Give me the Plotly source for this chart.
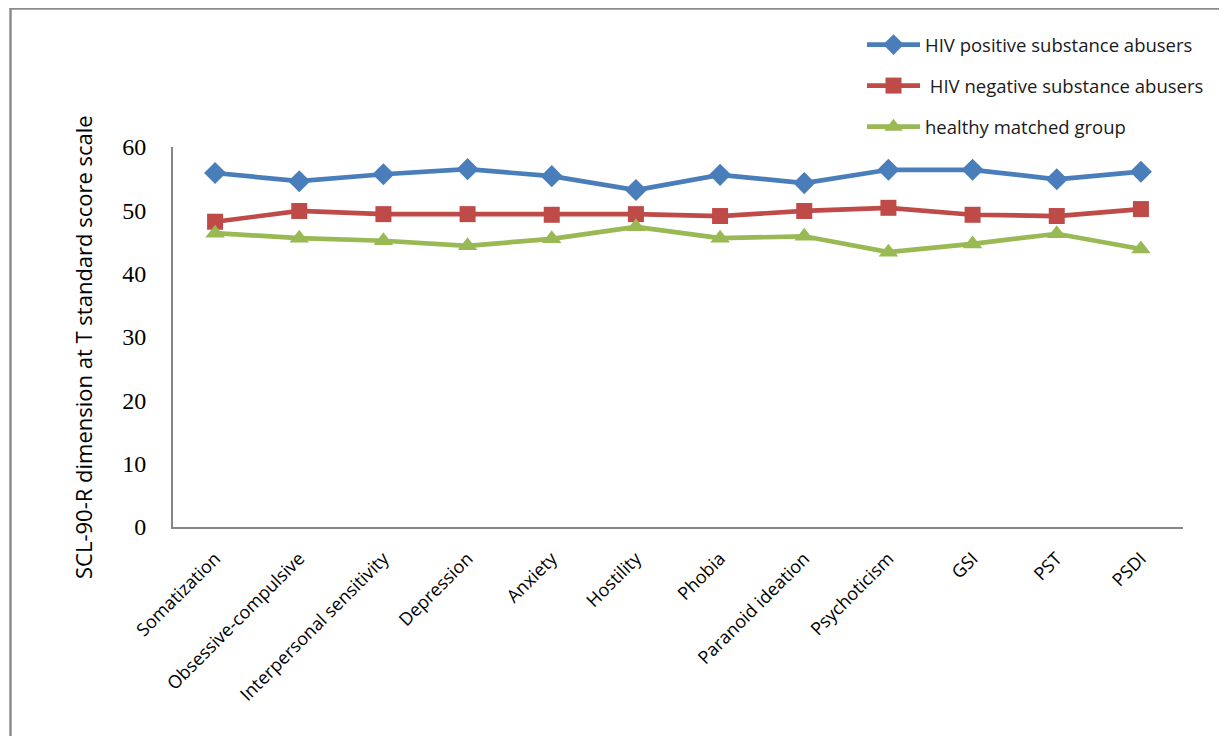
import plotly.graph_objects as go

categories = ["Somatization", "Obsessive-compulsive", "Interpersonal sensitivity",
              "Depression", "Anxiety", "Hostility", "Phobia", "Paranoid ideation",
              "Psychoticism", "GSI", "PST", "PSDI"]
hiv_positive = [55.9, 54.6, 55.7, 56.5, 55.4, 53.2, 55.6, 54.3, 56.4, 56.4, 54.9, 56.1]
hiv_negative = [48.2, 49.9, 49.4, 49.4, 49.3, 49.4, 49.1, 49.9, 50.4, 49.3, 49.1, 50.2]
healthy = [46.4, 45.6, 45.2, 44.4, 45.5, 47.4, 45.6, 45.9, 43.4, 44.7, 46.3, 43.9]
y_ticks = [0, 10, 20, 30, 40, 50, 60]

series_names = ["HIV positive substance abusers", " HIV negative substance abusers",
                "healthy matched group"]
colors = ["#4A7EBB", "#BE4B48", "#98B954"]
symbols = ["diamond", "square", "triangle-up"]
sizes = [17, 16, 17]

OFF = 8  # page body margin
W, H = 1227 - OFF, 736 - OFF
L, R, T, B = 173 - OFF, 1183 - OFF, 147 - OFF, 527 - OFF
pw, ph = R - L, B - T

def px(x):
    return (x - OFF - L) / pw

def py(y):
    return (B - (y - OFF)) / ph

fig = go.Figure()
for i, vals in enumerate([hiv_positive, hiv_negative, healthy]):
    fig.add_trace(go.Scatter(
        x=list(range(len(categories))), y=vals, name=series_names[i],
        mode="lines+markers", legendgroup=f"g{i}",
        line=dict(color=colors[i], width=4.7),
        marker=dict(symbol=symbols[i], size=sizes[i], color=colors[i]),
    ))

fig.update_layout(
    width=W, height=H,
    margin=dict(l=L, r=W - R, t=T, b=H - B, pad=0),
    paper_bgcolor="white", plot_bgcolor="white",
    showlegend=True,
    legend=dict(x=px(862), y=py(26), xanchor="left", yanchor="top",
                traceorder="grouped", tracegroupgap=14, itemwidth=53,
                font=dict(family="Open Sans", size=18.5, color="#1a1a1a"),
                bgcolor="rgba(0,0,0,0)"),
    xaxis=dict(range=[-0.5, len(categories) - 0.5], tickmode="array",
               tickvals=list(range(len(categories))), ticktext=categories,
               tickangle=-45, showgrid=False, zeroline=False,
               showline=True, linecolor="#868686", linewidth=2, ticks="",
               ticklabelstandoff=12,
               tickfont=dict(family="Open Sans", size=18, color="black")),
    yaxis=dict(range=[0, 60], tickmode="array", tickvals=y_ticks,
               showgrid=False, zeroline=False, showline=True,
               linecolor="#868686", linewidth=2, ticks="",
               ticklabelstandoff=20,
               tickfont=dict(family="Liberation Serif", size=24, color="black")),
    annotations=[dict(text="SCL-90-R dimension at T standard score scale",
                      x=px(66), y=py(347), xref="paper", yref="paper",
                      textangle=-90, showarrow=False,
                      font=dict(family="Open Sans", size=22, color="black"))],
    shapes=[
        dict(type="line", xref="paper", yref="paper", x0=px(10.5), x1=px(10.5),
             y0=py(7.5), y1=py(760), line=dict(color="#8c8c8c", width=2.5)),
        dict(type="line", xref="paper", yref="paper", x0=px(9.5), x1=px(1260),
             y0=py(8.5), y1=py(8.5), line=dict(color="#8c8c8c", width=2.5)),
    ],
)

fig.write_html("out.html")
